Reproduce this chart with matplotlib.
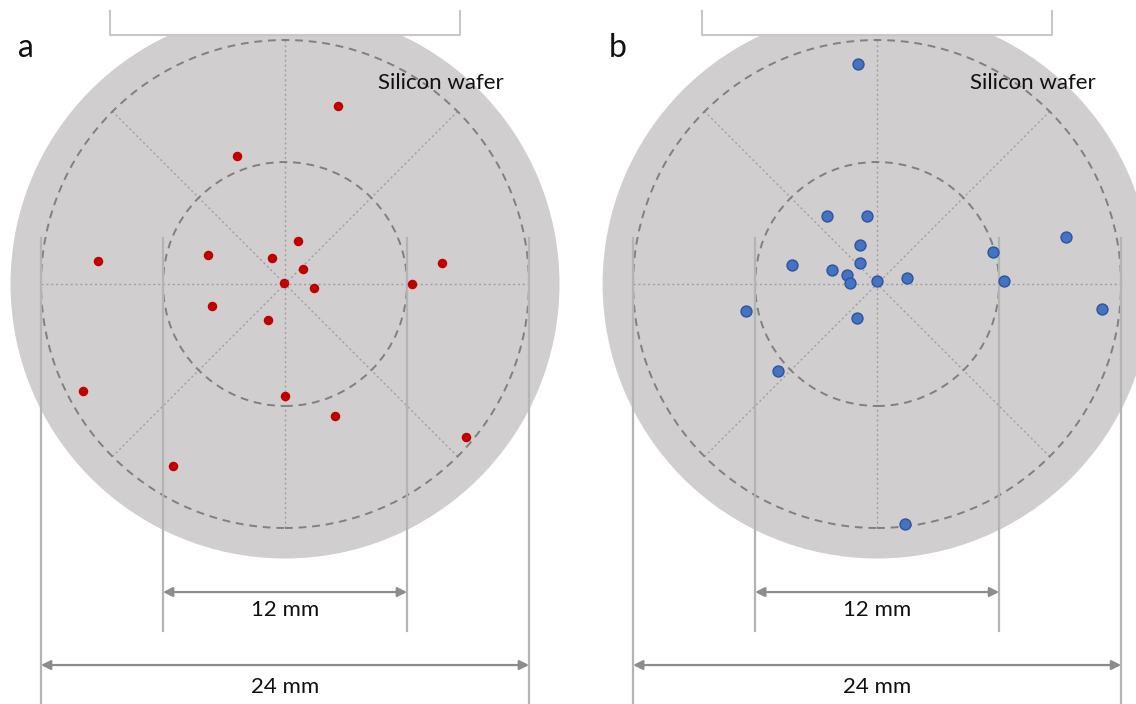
import matplotlib
matplotlib.use("Agg")
import matplotlib.pyplot as plt
from matplotlib.patches import Circle, Rectangle
import numpy as np

plt.rcParams['font.family'] = ['Lato', 'DejaVu Sans']

# wafer geometry (mm)
wafer_r = 13.5
outer_r = 12.0
inner_r = 6.0
panel_gap = 29.12        # centre of wafer b relative to wafer a

# particle positions (mm, relative to each wafer centre)
a_x = [2.61, -2.36, 0.62, -3.80, -0.65, 0.87, -9.20, 7.71, -0.05,
       1.44, 6.23, -3.59, -0.84, -9.94, 0.00, 2.46, 8.90, -5.51]
a_y = [8.76, 6.30, 2.10, 1.44, 1.26, 0.75, 1.13, 1.02, 0.06,
       -0.21, -0.01, -1.07, -1.79, -5.26, -5.51, -6.49, -7.53, -8.95]

b_x = [-0.93, -2.46, -0.48, -0.82, -4.20, -0.82, -2.21, -1.49, -1.31,
       0.00, 1.46, 5.69, 6.23, 9.28, 11.08, -6.43, -1.00, -4.88, 1.38]
b_y = [10.82, 3.36, 3.36, 1.93, 0.95, 1.05, 0.67, 0.46, 0.06,
       0.15, 0.31, 1.56, 0.15, 2.30, -1.23, -1.33, -1.69, -4.26, -11.81]

labels = ['a', 'b']
dim_labels = ['12 mm', '24 mm']

fig = plt.figure(figsize=(11.36, 7.04), dpi=100)
ax = fig.add_axes([0, 0, 1, 1])
s = 20.333  # px per mm
ax.set_xlim(-285 / s, (1136 - 285) / s)
ax.set_ylim((284 - 704) / s, 284 / s)
ax.axis('off')

wafer_col = '#D0CECE'
dash_col = '#808080'
dot_col = '#A0A0A0'
dim_col = '#B4B4B4'
arr_col = '#8C8C8C'


def draw_wafer(cx, xs, ys, label, color, edge, size):
    ax.add_patch(Circle((cx, 0), wafer_r, facecolor=wafer_col, edgecolor='none', zorder=1))
    # clamp bracket over the flat
    ax.add_patch(Rectangle((cx - 8.61, 12.25), 17.22, 3.0, facecolor='white',
                           edgecolor='none', zorder=2))
    ax.plot([cx - 8.61, cx - 8.61, cx + 8.61, cx + 8.61],
            [13.43, 12.25, 12.25, 13.43], color='#C8C8C8', lw=1.5, zorder=3)
    for r in (outer_r, inner_r):
        ax.add_patch(Circle((cx, 0), r, facecolor='none', edgecolor=dash_col,
                            lw=1.4, ls=(0, (4, 3)), zorder=3))
    for ang in np.deg2rad([0, 45, 90, 135]):
        ax.plot([cx - outer_r * np.cos(ang), cx + outer_r * np.cos(ang)],
                [-outer_r * np.sin(ang), outer_r * np.sin(ang)],
                color=dot_col, lw=1.0, ls=(0, (1.5, 2)), zorder=2)
    # dimension lines
    for xv in (-inner_r, inner_r):
        ax.plot([cx + xv, cx + xv], [2.26, -17.07], color=dim_col, lw=1.6, zorder=3)
    for xv in (-outer_r, outer_r):
        ax.plot([cx + xv, cx + xv], [2.26, -22], color=dim_col, lw=1.6, zorder=3)
    for half, yy, ty, txt in [(inner_r, -15.15, -16.05, dim_labels[0]),
                              (outer_r, -18.74, -19.80, dim_labels[1])]:
        ax.annotate('', xy=(cx + half, yy), xytext=(cx - half, yy),
                    arrowprops=dict(arrowstyle='<|-|>', color=arr_col, lw=1.6,
                                    mutation_scale=14, shrinkA=0, shrinkB=0),
                    zorder=4)
        ax.text(cx, ty, txt, ha='center', va='center', fontsize=16, color='#111111')
    ax.text(cx + 7.65, 9.89, 'Silicon wafer', ha='center', va='center',
            fontsize=16, color='#111111', zorder=5)
    ax.text(cx - 12.75, 11.6, label, ha='center', va='center', fontsize=23,
            color='#111111')
    ax.scatter(np.array(xs) + cx, ys, s=size, color=color, edgecolors=edge,
               linewidths=1.0, zorder=6)


draw_wafer(0.0, a_x, a_y, labels[0], '#C00000', '#C00000', 34)
draw_wafer(panel_gap, b_x, b_y, labels[1], '#4472C4', '#2F5597', 62)

fig.savefig('out.png', dpi=100)
